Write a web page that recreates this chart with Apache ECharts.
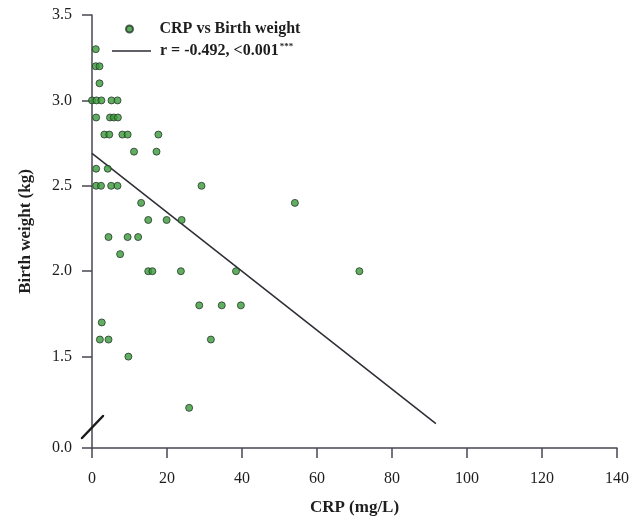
<!DOCTYPE html>
<html>
<head>
<meta charset="utf-8">
<script src="https://cdn.jsdelivr.net/npm/echarts@6/dist/echarts.min.js"></script>
<style>
html,body{margin:0;padding:0;background:#fff;}
#c{width:629px;height:521px;}
</style>
</head>
<body>
<div id="c"></div>
<script>
// CRP (mg/L) vs Birth weight (kg)
const crp = [1, 1, 2, 2,
  0, 1.2, 2.5, 5.2, 6.8,
  1.1, 4.8, 5.8, 6.9,
  3.3, 4.6, 8.1, 9.5, 17.7,
  11.2, 17.2,
  1.1, 4.2,
  1.1, 2.4, 5.1, 6.8, 29.2,
  13.1, 54.1,
  15.0, 19.9, 23.9,
  4.4, 9.5, 12.3,
  7.5,
  15.0, 16.1, 23.7, 38.4, 71.3,
  28.6, 34.6, 39.7,
  2.6,
  2.1, 4.4, 31.7,
  9.7,
  25.9];
const birthWeight = [3.3, 3.2, 3.2, 3.1,
  3.0, 3.0, 3.0, 3.0, 3.0,
  2.9, 2.9, 2.9, 2.9,
  2.8, 2.8, 2.8, 2.8, 2.8,
  2.7, 2.7,
  2.6, 2.6,
  2.5, 2.5, 2.5, 2.5, 2.5,
  2.4, 2.4,
  2.3, 2.3, 2.3,
  2.2, 2.2, 2.2,
  2.1,
  2.0, 2.0, 2.0, 2.0, 2.0,
  1.8, 1.8, 1.8,
  1.7,
  1.6, 1.6, 1.6,
  1.5,
  1.2];
const fitX = [0, 91.7];
const fitY = [2.69, 1.108];
const xTicks = [0, 20, 40, 60, 80, 100, 120, 140];
const yMin = 0.965; // broken axis: bottom of axis is labelled 0.0
const yTickValues = [yMin, 1.5, 2.0, 2.5, 3.0, 3.5];
const yTickLabels = ['0.0', '1.5', '2.0', '2.5', '3.0', '3.5'];
const scatterName = 'CRP vs Birth weight';
const lineName = 'r = -0.492, <0.001***';

const font = 'Liberation Serif';
const axisColor = '#4a4652';
function legendText(padLeft) {
  return {
    fontFamily: font, fontSize: 16, fontWeight: 'bold', color: '#1e1e1e',
    padding: [0, 0, 0, padLeft],
    rich: {s: {fontFamily: font, fontSize: 9, fontWeight: 'bold', color: '#1e1e1e', verticalAlign: 'top', padding: [0, 0, 9, 1]}}
  };
}

const chart = echarts.init(document.getElementById('c'), null, {renderer: 'canvas'});
const option = {
  backgroundColor: '#ffffff',
  animation: false,
  grid: {left: 92, right: 12, top: 15, bottom: 73, outerBoundsMode: 'none'},
  legend: [
    {
      left: 120, top: 16,
      itemWidth: 30, itemHeight: 7,
      data: [scatterName],
      textStyle: legendText(10)
    },
    {
      left: 107, top: 37,
      itemWidth: 39, itemHeight: 1.5,
      data: [{name: lineName, icon: 'rect'}],
      textStyle: legendText(4),
      formatter: function (n) { return n.replace('***', '{s|***}'); }
    }
  ],
  xAxis: {
    type: 'value',
    min: xTicks[0], max: xTicks[xTicks.length - 1], interval: 20,
    name: 'CRP (mg/L)',
    nameLocation: 'middle',
    nameGap: 51,
    nameTextStyle: {fontFamily: font, fontSize: 17, fontWeight: 'bold', color: '#1e1e1e'},
    axisLine: {show: true, onZero: false, lineStyle: {color: axisColor, width: 1.5}},
    axisTick: {show: true, inside: false, length: 10, lineStyle: {color: axisColor, width: 1.5}},
    axisLabel: {fontFamily: font, fontSize: 16, color: '#1e1e1e', margin: 23},
    splitLine: {show: false}
  },
  yAxis: {
    type: 'value',
    min: yMin, max: 3.5,
    name: 'Birth weight (kg)',
    nameLocation: 'middle',
    nameGap: 58,
    nameTextStyle: {fontFamily: font, fontSize: 17, fontWeight: 'bold', color: '#1e1e1e'},
    axisLine: {show: true, onZero: false, lineStyle: {color: axisColor, width: 1.5}},
    axisTick: {show: true, length: 10, customValues: yTickValues, lineStyle: {color: axisColor, width: 1.5}},
    axisLabel: {
      fontFamily: font, fontSize: 16, color: '#1e1e1e', margin: 20,
      customValues: yTickValues,
      formatter: function (v) {
        for (let i = 0; i < yTickValues.length; i++) {
          if (Math.abs(v - yTickValues[i]) < 1e-6) return yTickLabels[i];
        }
        return '';
      }
    },
    splitLine: {show: false}
  },
  series: [
    {
      name: scatterName,
      type: 'scatter',
      symbol: 'circle',
      symbolSize: 7,
      itemStyle: {color: '#3a9a3a', borderColor: '#26382a', borderWidth: 1},
      data: crp.map((x, i) => [x, birthWeight[i]]),
      z: 3
    },
    {
      name: lineName,
      type: 'line',
      symbol: 'none',
      lineStyle: {color: '#2c2c34', width: 1.5},
      itemStyle: {color: '#2c2c34'},
      data: fitX.map((x, i) => [x, fitY[i]]),
      z: 2
    }
  ]
};
chart.setOption(option);

// axis break mark on the y axis near the origin
const o = chart.convertToPixel({gridIndex: 0}, [xTicks[0], yMin]);
chart.setOption({
  graphic: [{
    type: 'line',
    shape: {x1: o[0] - 10, y1: o[1] - 10, x2: o[0] + 11, y2: o[1] - 32},
    style: {stroke: '#1a1a1a', lineWidth: 2.5, lineCap: 'round'},
    z: 10
  }]
});
</script>
</body>
</html>
